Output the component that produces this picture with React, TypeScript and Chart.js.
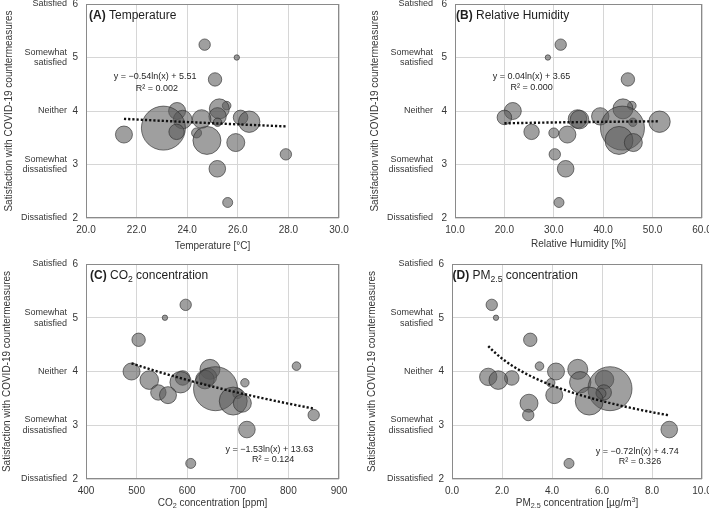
import React, { useEffect, useRef } from 'react';
import { Chart, registerables, BubbleController } from 'chart.js';
Chart.register(...registerables);

// Bubble controller that does not enlarge the chart-area padding for big bubbles
class FlatBubbleController extends (BubbleController as any) {
  static id = 'flatBubble';
  static defaults = (BubbleController as any).defaults;
  static overrides = (BubbleController as any).overrides;
  getMaxOverflow() {
    return false;
  }
}
Chart.register(FlatBubbleController as any);

// ---------- DATA ----------
const Y_CATEGORIES = ['Dissatisfied', 'Somewhat\ndissatisfied', 'Neither', 'Somewhat\nsatisfied', 'Satisfied'];
const Y_TICKS = [2, 3, 4, 5, 6];
// satisfaction score per office (shared by all panels)
const SATISFACTION = [5.24, 5.0, 4.59, 4.1, 4.0, 4.04, 3.9, 3.88, 3.85, 3.84, 3.79, 3.8, 3.68, 3.61, 3.59, 3.56, 3.45, 3.41, 3.19, 2.92, 2.29];
// bubble size (radius) per office
const BUBBLE_SIZE = [5.7, 2.7, 6.7, 4.3, 8.5, 10, 8.7, 7.3, 9.3, 9.3, 4.2, 10.7, 22, 7.7, 5, 8.5, 14, 9, 5.7, 8.3, 5];
const TEMPERATURE = [24.69, 25.96, 25.1, 25.56, 23.6, 25.27, 25.2, 26.11, 24.57, 23.82, 25.2, 26.45, 23.06, 23.58, 24.37, 21.5, 24.78, 25.92, 27.9, 25.19, 25.6];
const HUMIDITY = [31.4, 28.8, 45.0, 45.8, 21.7, 44.0, 39.4, 20.0, 34.8, 35.2, 46.0, 51.4, 43.9, 25.5, 30.0, 32.75, 43.2, 46.1, 30.2, 32.4, 31.05];
const CO2 = [597, 556, 504, 816, 490, 645, 641, 591, 635, 525, 714, 587, 656, 543, 700, 562, 691, 709, 850, 718, 607];
const PM25 = [1.59, 1.76, 3.13, 3.5, 4.16, 5.03, 1.45, 2.39, 6.1, 1.85, 3.95, 5.13, 6.32, 6.07, 5.96, 4.09, 5.49, 3.08, 3.05, 8.69, 4.68];
// logarithmic fit y = a ln(x) + b
const TEMP_FIT = [-0.54, 5.51];
const HUM_FIT = [0.04, 3.65];
const CO2_FIT = [-1.53, 13.63];
const PM_FIT = [-0.72, 4.74];
const TEMP_EQ = ['y = \u22120.54ln(x) + 5.51', 'R\u00b2 = 0.002'];
const HUM_EQ = ['y = 0.04ln(x) + 3.65', 'R\u00b2 = 0.000'];
const CO2_EQ = ['y = \u22121.53ln(x) + 13.63', 'R\u00b2 = 0.124'];
const PM_EQ = ['y = \u22120.72ln(x) + 4.74', 'R\u00b2 = 0.326'];

const FONT = '"Liberation Sans", Arial, Helvetica, sans-serif';
const TEXT = '#363636';

type Seg = { t: string; b?: boolean; sub?: boolean; sup?: boolean };

const PANELS = [
  {
    xs: TEMPERATURE, fit: TEMP_FIT, eq: TEMP_EQ, xMin: 20, xMax: 30, step: 2, dec: 1,
    title: [{ t: '(A)', b: true }, { t: ' Temperature' }] as Seg[],
    xTitle: [{ t: 'Temperature [\u00b0C]' }] as Seg[],
    canvas: { x: 0, y: 0, w: 354, h: 255 }, area: { l: 86, t: 4, r: 339, b: 218 },
    yTitleX: 9.5, catGap: 19, titleDx: 3, xTitleDy: 28, eqPos: [0.273, 0.341, 0.28, 0.393],
  },
  {
    xs: HUMIDITY, fit: HUM_FIT, eq: HUM_EQ, xMin: 10, xMax: 60, step: 10, dec: 1,
    title: [{ t: '(B)', b: true }, { t: ' Relative Humidity' }] as Seg[],
    xTitle: [{ t: 'Relative Humidity [%]' }] as Seg[],
    canvas: { x: 354, y: 0, w: 355, h: 255 }, area: { l: 455, t: 4, r: 702, b: 218 },
    yTitleX: 21, catGap: 22, titleDx: 1, xTitleDy: 26, eqPos: [0.31, 0.34, 0.31, 0.39],
  },
  {
    xs: CO2, fit: CO2_FIT, eq: CO2_EQ, xMin: 400, xMax: 900, step: 100, dec: 0,
    title: [{ t: '(C)', b: true }, { t: ' CO' }, { t: '2', sub: true }, { t: ' concentration' }] as Seg[],
    xTitle: [{ t: 'CO' }, { t: '2', sub: true }, { t: ' concentration [ppm]' }] as Seg[],
    canvas: { x: 0, y: 255, w: 354, h: 255 }, area: { l: 86, t: 264, r: 339, b: 479 },
    yTitleX: 7.5, catGap: 19, titleDx: 4, xTitleDy: 24, eqPos: [0.725, 0.862, 0.74, 0.908],
  },
  {
    xs: PM25, fit: PM_FIT, eq: PM_EQ, xMin: 0, xMax: 10, step: 2, dec: 1,
    title: [{ t: '(D)', b: true }, { t: ' PM' }, { t: '2.5', sub: true }, { t: ' concentration' }] as Seg[],
    xTitle: [{ t: 'PM' }, { t: '2.5', sub: true }, { t: ' concentration [\u00b5g/m' }, { t: '3', sup: true }, { t: ']' }] as Seg[],
    canvas: { x: 354, y: 255, w: 355, h: 255 }, area: { l: 452, t: 264, r: 702, b: 479 },
    yTitleX: 18, catGap: 19, titleDx: 0.5, xTitleDy: 24, eqPos: [0.741, 0.873, 0.752, 0.92],
  },
];

function drawRich(ctx: CanvasRenderingContext2D, segs: Seg[], x: number, y: number, size: number, align: 'left' | 'center', color: string) {
  const fontFor = (s: Seg) => `${s.b ? 'bold ' : ''}${s.sub || s.sup ? size * 0.72 : size}px ${FONT}`;
  let total = 0;
  for (const s of segs) { ctx.font = fontFor(s); total += ctx.measureText(s.t).width; }
  let cx = align === 'center' ? x - total / 2 : x;
  ctx.textBaseline = 'middle';
  ctx.textAlign = 'left';
  ctx.fillStyle = color;
  for (const s of segs) {
    ctx.font = fontFor(s);
    const dy = s.sub ? size * 0.3 : s.sup ? -size * 0.3 : 0;
    ctx.fillText(s.t, cx, y + dy);
    cx += ctx.measureText(s.t).width;
  }
}

function Panel({ p }: { p: typeof PANELS[number] }) {
  const ref = useRef<HTMLCanvasElement>(null);
  useEffect(() => {
    const c = ref.current!;
    const { canvas, area } = p;
    const bubbles = p.xs.map((x, i) => ({ x, y: SATISFACTION[i], r: BUBBLE_SIZE[i] }));
    const lo = Math.min(...p.xs);
    const hi = Math.max(...p.xs);
    const trend: { x: number; y: number }[] = [];
    const N = 40;
    for (let i = 0; i < N; i++) {
      const x = lo + ((hi - lo) * i) / (N - 1);
      trend.push({ x, y: p.fit[0] * Math.log(x) + p.fit[1] });
    }
    const overlay = {
      id: 'overlay',
      afterDraw(chart: any) {
        const ctx: CanvasRenderingContext2D = chart.ctx;
        const ca = chart.chartArea;
        const ys = chart.scales.y;
        ctx.save();
        // plot border
        ctx.strokeStyle = '#8a8a8a';
        ctx.lineWidth = 1;
        ctx.strokeRect(Math.round(ca.left) + 0.5, Math.round(ca.top) + 0.5, Math.round(ca.right - ca.left) - 1, Math.round(ca.bottom - ca.top) - 1);
        // category labels
        ctx.fillStyle = TEXT;
        ctx.font = `9px ${FONT}`;
        ctx.textAlign = 'right';
        ctx.textBaseline = 'middle';
        Y_TICKS.forEach((v, i) => {
          const yy = ys.getPixelForValue(v);
          const lines = Y_CATEGORIES[i].split('\n');
          lines.forEach((ln, k) => {
            ctx.fillText(ln, ca.left - p.catGap, yy + (k - (lines.length - 1) / 2) * 10.6);
          });
        });
        // y title
        ctx.save();
        ctx.translate(p.yTitleX, (ca.top + ca.bottom) / 2);
        ctx.rotate(-Math.PI / 2);
        ctx.font = `10px ${FONT}`;
        ctx.textAlign = 'center';
        ctx.fillText('Satisfaction with COVID-19 countermeasures', 0, 0);
        ctx.restore();
        // x title
        drawRich(ctx, p.xTitle, (ca.left + ca.right) / 2, ca.bottom + p.xTitleDy, 10, 'center', TEXT);
        // panel title
        drawRich(ctx, p.title, ca.left + p.titleDx, ca.top + 12, 12, 'left', '#1e1e1e');
        // equation
        const w = ca.right - ca.left, h = ca.bottom - ca.top;
        ctx.font = `9px ${FONT}`;
        ctx.fillStyle = '#262626';
        ctx.textAlign = 'center';
        ctx.fillText(p.eq[0], ca.left + p.eqPos[0] * w, ca.top + p.eqPos[1] * h);
        ctx.fillText(p.eq[1], ca.left + p.eqPos[2] * w, ca.top + p.eqPos[3] * h);
        ctx.restore();
      },
    };
    const chart = new Chart(c, {
      type: 'bubble',
      data: {
        datasets: [
          {
            type: 'line',
            data: trend,
            borderColor: '#111111',
            borderWidth: 2.4,
            borderDash: [2.2, 2],
            pointRadius: 0,
            fill: false,
            tension: 0,
            order: 0,
            clip: false,
          } as any,
          {
            type: 'flatBubble',
            data: bubbles,
            backgroundColor: 'rgba(90,90,90,0.58)',
            borderColor: 'rgba(45,45,45,0.8)',
            borderWidth: 0.8,
            order: 1,
            clip: false,
          } as any,
        ],
      },
      options: {
        responsive: false,
        animation: false,
        devicePixelRatio: 1,
        layout: { padding: { left: 0, bottom: 0, top: area.t - canvas.y, right: canvas.x + canvas.w - area.r } },
        plugins: { legend: { display: false }, tooltip: { enabled: false } },
        scales: {
          x: {
            type: 'linear',
            min: p.xMin,
            max: p.xMax,
            afterFit: (s: any) => { s.height = canvas.y + canvas.h - area.b; s.paddingLeft = 0; s.paddingRight = 0; },
            grid: { color: '#d6d6d6', drawTicks: false },
            border: { display: false },
            ticks: {
              stepSize: p.step,
              autoSkip: false,
              maxRotation: 0,
              padding: 6,
              color: TEXT,
              font: { size: 10, family: FONT },
              callback: (v: any) => Number(v).toFixed(p.dec),
            },
          },
          y: {
            type: 'linear',
            min: 2,
            max: 6,
            afterFit: (s: any) => { s.width = area.l - canvas.x; s.paddingTop = 0; s.paddingBottom = 0; },
            grid: { color: '#d6d6d6', drawTicks: false },
            border: { display: false },
            ticks: {
              stepSize: 1,
              padding: 8,
              color: TEXT,
              font: { size: 10, family: FONT },
            },
          },
        },
      } as any,
      plugins: [overlay],
    });
    return () => chart.destroy();
  }, [p]);
  return (
    <canvas
      ref={ref}
      width={p.canvas.w}
      height={p.canvas.h}
      style={{ position: 'absolute', left: p.canvas.x, top: p.canvas.y, width: p.canvas.w, height: p.canvas.h }}
    />
  );
}

export default function App() {
  return (
    <div style={{ position: 'absolute', left: 0, top: 0, width: 709, height: 510, background: '#fff' }}>
      {PANELS.map((p, i) => (
        <Panel key={i} p={p} />
      ))}
    </div>
  );
}
